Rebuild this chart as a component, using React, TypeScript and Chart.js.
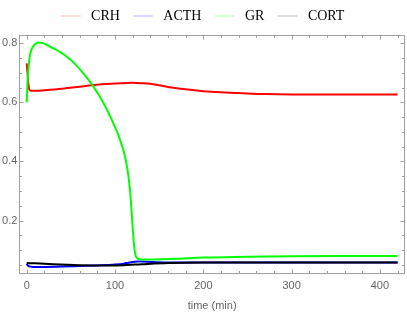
import React, { useEffect, useRef } from "react";
import { Chart, registerables } from "chart.js";

Chart.register(...registerables);

// ---- data ----
const seriesNames = ["CRH", "ACTH", "GR", "CORT"];

const timeCRH = [0, 1, 2, 3, 5, 10, 20, 40, 60, 74, 90, 100, 110, 120, 130, 140, 150, 160, 180, 200, 220, 235, 250, 270, 300, 340, 380, 420];
const crhValues = [0.732, 0.695, 0.66, 0.643, 0.639, 0.639, 0.641, 0.646, 0.653, 0.658, 0.662, 0.664, 0.665, 0.666, 0.665, 0.663, 0.658, 0.652, 0.644, 0.638, 0.634, 0.632, 0.63, 0.628, 0.627, 0.627, 0.627, 0.627];

const timeACTH = [0, 1, 2, 4, 8, 20, 40, 60, 80, 100, 110, 115, 120, 125, 130, 150, 170, 200, 250, 300, 420];
const acthValues = [0.054, 0.049, 0.046, 0.044, 0.043, 0.043, 0.044, 0.046, 0.048, 0.051, 0.054, 0.057, 0.06, 0.061, 0.061, 0.059, 0.058, 0.058, 0.058, 0.058, 0.058];

const timeGR = [0, 0.5, 1, 2, 3, 4, 6, 9, 13, 18, 24, 30, 37, 44, 50, 56, 62, 70, 78, 85, 92, 98, 103, 107, 110, 112.5, 114.5, 116, 117.2, 118.2, 119, 119.8, 120.6, 121.5, 122.5, 123.5, 125, 128, 135, 170, 200, 250, 300, 350, 420];
const grValues = [0.6, 0.64, 0.67, 0.715, 0.745, 0.765, 0.783, 0.796, 0.803, 0.801, 0.792, 0.783, 0.772, 0.758, 0.743, 0.726, 0.706, 0.676, 0.642, 0.608, 0.568, 0.53, 0.495, 0.462, 0.433, 0.4, 0.365, 0.33, 0.295, 0.255, 0.22, 0.185, 0.15, 0.118, 0.093, 0.08, 0.073, 0.069, 0.068, 0.071, 0.0745, 0.077, 0.079, 0.08, 0.08];

const timeCORT = [0, 10, 30, 60, 90, 110, 130, 160, 200, 250, 300, 420];
const cortValues = [0.056, 0.055, 0.052, 0.049, 0.048, 0.049, 0.052, 0.056, 0.058, 0.058, 0.058, 0.058];

const xMajorTicks = [0, 100, 200, 300, 400];
const xMinorTicks = [20, 40, 60, 80, 120, 140, 160, 180, 220, 240, 260, 280, 320, 340, 360, 380, 420];
const yMajorTicks = [0.2, 0.4, 0.6, 0.8];
const yMinorTicks = [0.05, 0.1, 0.15, 0.25, 0.3, 0.35, 0.45, 0.5, 0.55, 0.65, 0.7, 0.75];

const lineColors = ["#ff0000", "#0000ff", "#00ff00", "#000000"];
const legendColors = ["#ffcccc", "#ccccff", "#ccffcc", "#d4d4d4"];

const FRAME_COLOR = "#a0a0a0";
const LABEL_COLOR = "#666666";

const framePlugin = {
  id: "frameTicks",
  beforeDatasetsDraw(chart: any) {
    const { ctx, chartArea: a, scales } = chart;
    const xs = scales.x;
    const ys = scales.y;
    const L = Math.round(a.left) + 0.5;
    const R = Math.round(a.right) - 0.5;
    const T = Math.round(a.top) + 0.5;
    const B = Math.round(a.bottom) - 0.5;
    ctx.save();
    ctx.strokeStyle = FRAME_COLOR;
    ctx.lineWidth = 1;
    ctx.strokeRect(L, T, R - L, B - T);
    ctx.beginPath();
    const xt = (v: number, len: number) => {
      const p = Math.round(xs.getPixelForValue(v)) + 0.5;
      ctx.moveTo(p, B);
      ctx.lineTo(p, B - len);
      ctx.moveTo(p, T);
      ctx.lineTo(p, T + len);
    };
    const yt = (v: number, len: number) => {
      const p = Math.round(ys.getPixelForValue(v)) + 0.5;
      ctx.moveTo(L, p);
      ctx.lineTo(L + len, p);
      ctx.moveTo(R, p);
      ctx.lineTo(R - len, p);
    };
    xMajorTicks.forEach((v) => xt(v, 4));
    xMinorTicks.forEach((v) => xt(v, 2.5));
    yMajorTicks.forEach((v) => yt(v, 4));
    yMinorTicks.forEach((v) => yt(v, 2.5));
    ctx.stroke();
    ctx.restore();
  },
};

function pts(t: number[], v: number[]) {
  return t.map((x, i) => ({ x, y: v[i] }));
}

export default function App() {
  const ref = useRef<HTMLCanvasElement>(null);

  useEffect(() => {
    document.body.style.margin = "0";
    const canvas = ref.current;
    if (!canvas) return;
    const dataSets = [
      pts(timeCRH, crhValues),
      pts(timeACTH, acthValues),
      pts(timeGR, grValues),
      pts(timeCORT, cortValues),
    ];
    const chart = new Chart(canvas, {
      type: "line",
      data: {
        datasets: dataSets.map((d, i) => ({
          label: seriesNames[i],
          data: d,
          borderColor: lineColors[i],
          backgroundColor: lineColors[i],
          borderWidth: 2,
          pointRadius: 0,
          fill: false,
          cubicInterpolationMode: "monotone" as const,
          order: 4 - i,
        })),
      },
      options: {
        animation: false,
        responsive: false,
        devicePixelRatio: 1,
        layout: { padding: { top: 0, left: 0, right: 2, bottom: 0 } },
        plugins: {
          tooltip: { enabled: false },
          title: {
            display: true,
            text: "",
            weight: 500,
            position: "top",
            font: { size: 1, lineHeight: 1 },
            padding: { top: 1, bottom: 0 },
          } as any,
          legend: {
            display: true,
            position: "top",
            labels: {
              usePointStyle: true,
              pointStyleWidth: 20,
              padding: 13,
              color: "#000000",
              font: { family: "Liberation Serif", size: 14 },
              generateLabels: () =>
                seriesNames.map((n, i) => ({
                  text: " " + n,
                  fillStyle: legendColors[i],
                  strokeStyle: legendColors[i],
                  lineWidth: 1.5,
                  pointStyle: "line",
                  hidden: false,
                  datasetIndex: i,
                  fontColor: "#000000",
                })),
            },
          },
        },
        scales: {
          x: {
            type: "linear",
            min: -8.4,
            max: 428.4,
            grid: { display: false, drawTicks: false },
            border: { display: false },
            afterBuildTicks: (s: any) => {
              s.ticks = xMajorTicks.map((v) => ({ value: v }));
            },
            afterFit: (s: any) => {
              s.height = 43;
            },
            ticks: {
              padding: 5,
              color: LABEL_COLOR,
              font: { family: "Liberation Sans", size: 11 },
              maxRotation: 0,
              autoSkip: false,
              callback: (v: any) => String(v),
            },
            title: {
              display: true,
              text: "time (min)",
              color: LABEL_COLOR,
              font: { family: "Liberation Sans", size: 11 },
              padding: { top: 0, bottom: 4 },
            },
          },
          y: {
            type: "linear",
            min: 0.019,
            max: 0.828,
            grid: { display: false, drawTicks: false },
            border: { display: false },
            afterBuildTicks: (s: any) => {
              s.ticks = yMajorTicks.map((v) => ({ value: v }));
            },
            afterFit: (s: any) => {
              s.width = 19.3;
            },
            ticks: {
              padding: 2,
              color: LABEL_COLOR,
              font: { family: "Liberation Sans", size: 11 },
              autoSkip: false,
              callback: (v: any) => Number(v).toFixed(1),
            },
          },
        },
      },
      plugins: [framePlugin],
    });
    return () => chart.destroy();
  }, []);

  return (
    <div style={{ position: "absolute", left: 0, top: -4, width: 407, height: 321 }}>
      <canvas ref={ref} width={407} height={321} style={{ width: 407, height: 321, display: "block" }} />
    </div>
  );
}
